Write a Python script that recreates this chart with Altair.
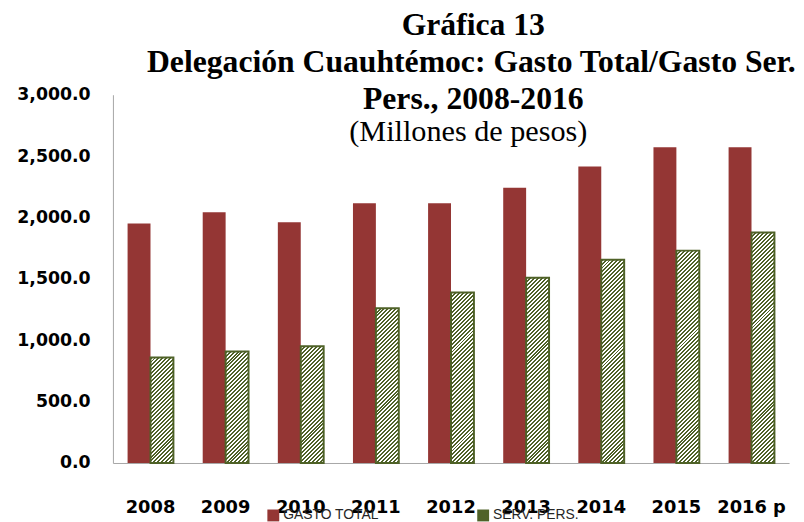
import altair as alt
import pandas as pd

# ---- data ----
anios = ["2008", "2009", "2010", "2011", "2012", "2013", "2014", "2015", "2016 p"]
gasto_total = [1951, 2043, 1962, 2116, 2116, 2242, 2415, 2573, 2573]
serv_pers = [859, 908, 951, 1261, 1388, 1509, 1655, 1730, 1878]
series = ["GASTO TOTAL", "SERV. PERS."]
y_ticks = [0, 500, 1000, 1500, 2000, 2500, 3000]
titulo = ["Gráfica 13",
          "Delegación Cuauhtémoc: Gasto Total/Gasto Ser.",
          "Pers., 2008-2016",
          "(Millones de pesos)"]

ROJO = "#943634"
VERDE = "#4F6228"

W, H = 683, 372
Y_MAX = 3000
PAD_IN, PAD_OUT = 0.39, 0.195

rows = []
for a, g, s in zip(anios, gasto_total, serv_pers):
    rows.append({"anio": a, "serie": series[0], "valor": g})
    rows.append({"anio": a, "serie": series[1], "valor": s})
df = pd.DataFrame(rows)

# ---- hatch (diagonal stripes) as bbox-relative linear gradients ----
step = W / (len(anios) - PAD_IN + 2 * PAD_OUT)
bar_w = step * (1 - PAD_IN) / 2
PERIOD = 4.0
DARK = 0.5


def hatch(value):
    h = value * H / Y_MAX
    w = bar_w
    n = int((w + h) // PERIOD) + 1
    c = n * PERIOD / (w * w + h * h)
    stops = []
    for i in range(n):
        s0 = i / n
        s1 = (i + DARK) / n
        s2 = (i + 1) / n
        stops += [{"offset": s0, "color": VERDE},
                  {"offset": s1, "color": VERDE},
                  {"offset": s1, "color": "#ffffff"},
                  {"offset": s2, "color": "#ffffff"}]
    return {"gradient": "linear", "x1": 0, "y1": 0,
            "x2": c * w, "y2": c * h, "stops": stops}


conds = [{"test": f"datum.anio === '{a}'", "value": hatch(v)}
         for a, v in zip(anios, serv_pers)]

x_enc = alt.X("anio:N", sort=anios, title=None,
              scale=alt.Scale(paddingInner=PAD_IN, paddingOuter=PAD_OUT),
              axis=alt.Axis(labelAngle=0, ticks=False, labelPadding=36,
                            labelFont="DejaVu Sans", labelFontWeight="bold",
                            labelFontSize=18, labelColor="#000000",
                            domainColor="#a6a6a6", domainWidth=1))
xo_enc = alt.XOffset("serie:N", sort=series, scale=alt.Scale(domain=series))
y_enc = alt.Y("valor:Q", title=None,
              scale=alt.Scale(domain=[0, Y_MAX], nice=False),
              axis=alt.Axis(values=y_ticks, format=",.1f", ticks=False,
                            grid=False, labelPadding=23,
                            labelFont="DejaVu Sans", labelFontWeight="bold",
                            labelFontSize=17.5, labelColor="#000000",
                            domainColor="#a6a6a6", domainWidth=1))

base = alt.Chart(df)

rojo = base.transform_filter(f"datum.serie === '{series[0]}'").mark_bar().encode(
    x=x_enc, xOffset=xo_enc, y=y_enc,
    color=alt.Color("serie:N",
                    scale=alt.Scale(domain=series, range=[ROJO, VERDE]),
                    legend=alt.Legend(orient="none", legendX=155, legendY=418,
                                      direction="horizontal", title=None,
                                      symbolType="square", symbolSize=144,
                                      symbolStrokeWidth=0,
                                      labelFont="Liberation Sans",
                                      labelFontSize=14, labelColor="#262626",
                                      labelOffset=3, columnPadding=98)),
)

verde = base.transform_filter(f"datum.serie === '{series[1]}'").mark_bar(
    stroke=VERDE, strokeWidth=2
).encode(
    x=x_enc, xOffset=xo_enc, y=y_enc,
    fill={"condition": conds, "value": "#a6b08f"},
)


def linea(texto, x, y, size, weight):
    return alt.Chart(pd.DataFrame({"t": [texto]})).mark_text(
        font="Liberation Serif", fontSize=size, fontWeight=weight,
        color="#000000", align="center", baseline="alphabetic"
    ).encode(text="t:N", x=alt.value(x), y=alt.value(y))


t1 = linea(titulo[0], 364, -60, 32, "bold")
t2 = linea(titulo[1], 362, -23, 32, "bold")
t3 = linea(titulo[2], 364, 14, 32, "bold")
t4 = linea(titulo[3], 359, 47, 30.5, "normal")

chart = alt.layer(rojo, verde, t1, t2, t3, t4).properties(
    width=W, height=H,
    autosize=alt.AutoSizeParams(type="none"),
    padding={"left": 106, "top": 85, "right": 7, "bottom": 57},
    background="#ffffff",
).configure_view(stroke=None)

chart.save("out.html", embed_options={"renderer": "svg", "actions": False})
